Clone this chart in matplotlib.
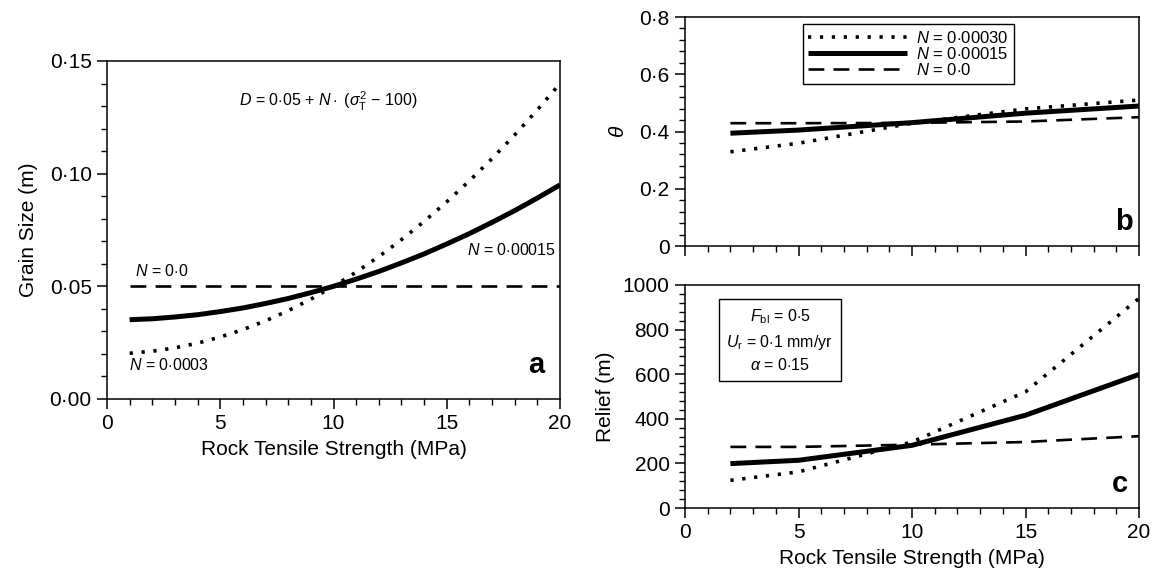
import numpy as np
import matplotlib
matplotlib.use("Agg")
import matplotlib.pyplot as plt
from matplotlib.ticker import MultipleLocator, FuncFormatter

plt.rcParams['font.family'] = ['Liberation Sans', 'DejaVu Sans']
plt.rcParams['mathtext.fontset'] = 'custom'
plt.rcParams['mathtext.rm'] = 'Liberation Sans'
plt.rcParams['mathtext.it'] = 'Liberation Sans:italic'
plt.rcParams['mathtext.bf'] = 'Liberation Sans:bold'

# --- panel a: grain size vs rock tensile strength ---
strength_a = [1, 2, 3, 4, 5, 6, 7, 8, 9, 10, 11, 12, 13, 14, 15, 16, 17, 18, 19, 20]
grain_n30 = [0.0203, 0.0212, 0.0227, 0.0248, 0.0275, 0.0308, 0.0347, 0.0392, 0.0443,
             0.0500, 0.0563, 0.0632, 0.0707, 0.0788, 0.0875, 0.0968, 0.1067, 0.1172,
             0.1283, 0.1400]
grain_n15 = [0.0352, 0.0356, 0.0364, 0.0374, 0.0388, 0.0404, 0.0424, 0.0446, 0.0472,
             0.0500, 0.0532, 0.0566, 0.0604, 0.0644, 0.0688, 0.0734, 0.0784, 0.0836,
             0.0892, 0.0950]
grain_n0 = [0.05] * len(strength_a)

# --- panels b and c ---
strength_bc = [2, 5, 10, 15, 20]
theta_n30 = [0.329, 0.359, 0.429, 0.479, 0.510]
theta_n15 = [0.394, 0.405, 0.431, 0.464, 0.489]
theta_n0 = [0.429, 0.429, 0.430, 0.435, 0.450]
relief_n30 = [124, 162, 296, 521, 940]
relief_n15 = [199, 214, 281, 416, 599]
relief_n0 = [274, 274, 284, 296, 322]

W, H = 1158, 582
fig = plt.figure(figsize=(W / 100, H / 100), dpi=100)
ax_a = fig.add_axes([107 / W, 1 - 399 / H, 453 / W, 338 / H])
ax_b = fig.add_axes([685 / W, 1 - 246 / H, 454 / W, 229 / H])
ax_c = fig.add_axes([685 / W, 1 - 508 / H, 454 / W, 223 / H])

dot_style = dict(color='black', lw=2.6, linestyle=(0, (0.9, 2.4)), dash_capstyle='butt')
solid_style = dict(color='black', lw=3.6, solid_capstyle='butt')
dash_style = dict(color='black', lw=1.9, linestyle=(0, (6, 3.5)))

TICK_FS = 15
LABEL_FS = 15
NOTE_FS = 11.5


def dot_fmt(decimals):
    def f(v, pos):
        if abs(v) < 1e-9 and decimals == -1:
            return '0'
        d = decimals if decimals >= 0 else 1
        return f"{v:.{d}f}".replace('.', '\u00b7')
    return FuncFormatter(f)


def style_axis(ax):
    ax.tick_params(which='major', direction='out', length=7, width=1.1,
                   labelsize=TICK_FS, colors='black', pad=4)
    ax.tick_params(which='minor', direction='out', length=4, width=1.0)
    for s in ax.spines.values():
        s.set_linewidth(1.1)
    ax.set_xlim(0, 20)
    ax.xaxis.set_major_locator(MultipleLocator(5))
    ax.xaxis.set_minor_locator(MultipleLocator(1))


# panel a
ax_a.plot(strength_a, grain_n30, **dot_style)
ax_a.plot(strength_a, grain_n15, **solid_style)
ax_a.plot(strength_a, grain_n0, **dash_style)
style_axis(ax_a)
ax_a.set_ylim(0, 0.15)
ax_a.yaxis.set_major_locator(MultipleLocator(0.05))
ax_a.yaxis.set_minor_locator(MultipleLocator(0.01))
ax_a.yaxis.set_major_formatter(dot_fmt(2))
ax_a.set_xlabel('Rock Tensile Strength (MPa)', fontsize=LABEL_FS, labelpad=5)
ax_a.set_ylabel('Grain Size (m)', fontsize=LABEL_FS, labelpad=8)
ax_a.text(9.76, 0.132, r'$D$ = 0$\cdot$05 + $N\cdot$ ($\sigma_{\rm T}^{2}$ $-$ 100)',
          fontsize=NOTE_FS, ha='center', va='center')
ax_a.text(1.22, 0.057, r'$N$ = 0$\cdot$0', fontsize=NOTE_FS, ha='left', va='center')
ax_a.text(0.98, 0.015, r'$N$ = 0$\cdot$0003', fontsize=NOTE_FS, ha='left', va='center')
ax_a.text(15.9, 0.066, r'$N$ = 0$\cdot$00015', fontsize=NOTE_FS, ha='left', va='center')
ax_a.text(18.94, 0.0151, 'a', fontsize=21, fontweight='bold', ha='center', va='center')

# panel b
ax_b.plot(strength_bc, theta_n30, label=r'$N$ = 0$\cdot$00030', **dot_style)
ax_b.plot(strength_bc, theta_n15, label=r'$N$ = 0$\cdot$00015', **solid_style)
ax_b.plot(strength_bc, theta_n0, label=r'$N$ = 0$\cdot$0', **dash_style)
style_axis(ax_b)
ax_b.set_ylim(0, 0.8)
ax_b.yaxis.set_major_locator(MultipleLocator(0.2))
ax_b.yaxis.set_minor_locator(MultipleLocator(0.04))
ax_b.yaxis.set_major_formatter(dot_fmt(-1))
ax_b.tick_params(axis='x', labelbottom=False)
ax_b.set_ylabel(r'$\theta$', fontsize=LABEL_FS, labelpad=8)
leg = ax_b.legend(loc='upper center', bbox_to_anchor=(0.492, 0.97), fontsize=12,
                  frameon=True, fancybox=False, edgecolor='black', framealpha=1,
                  handlelength=5.9, handletextpad=0.55, borderpad=0.35,
                  labelspacing=0.0, borderaxespad=0)
leg.get_frame().set_linewidth(1.0)
ax_b.text(19.36, 0.084, 'b', fontsize=21, fontweight='bold', ha='center', va='center')

# panel c
ax_c.plot(strength_bc, relief_n30, **dot_style)
ax_c.plot(strength_bc, relief_n15, **solid_style)
ax_c.plot(strength_bc, relief_n0, **dash_style)
style_axis(ax_c)
ax_c.set_ylim(0, 1000)
ax_c.yaxis.set_major_locator(MultipleLocator(200))
ax_c.yaxis.set_minor_locator(MultipleLocator(40))
ax_c.yaxis.set_major_formatter(FuncFormatter(lambda v, p: f"{v:.0f}"))
ax_c.set_xlabel('Rock Tensile Strength (MPa)', fontsize=LABEL_FS, labelpad=5)
ax_c.set_ylabel('Relief (m)', fontsize=LABEL_FS, labelpad=6)
ax_c.text(0.209, 0.751,
          '$F_{\\rm bl}$ = 0$\\cdot$5\n$U_{\\rm r}$ = 0$\\cdot$1 mm/yr\n$\\alpha$ = 0$\\cdot$15',
          transform=ax_c.transAxes, fontsize=NOTE_FS, ha='center', va='center',
          linespacing=1.45, multialignment='center',
          bbox=dict(boxstyle='square,pad=0.45', facecolor='white', edgecolor='black', lw=1.0))
ax_c.text(19.16, 108, 'c', fontsize=21, fontweight='bold', ha='center', va='center')

fig.savefig('out.png', dpi=100)
